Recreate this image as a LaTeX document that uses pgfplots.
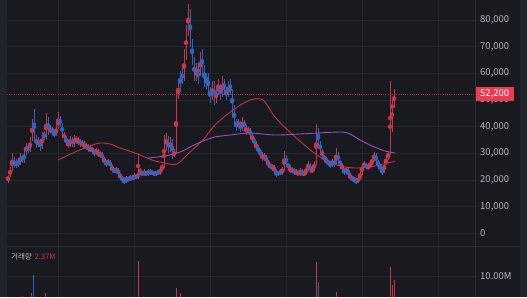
\documentclass[border=0pt]{standalone}
\usepackage{pgfplots}
\usepackage{pgfplotstable}
\pgfplotsset{compat=1.18}
\usepackage{fontspec}
\setmainfont{Noto Sans CJK KR}
\definecolor{bg}{RGB}{25,26,31}
\definecolor{strip}{RGB}{31,35,44}
\definecolor{gridc}{RGB}{36,37,43}
\definecolor{sepc}{RGB}{46,47,53}
\definecolor{tickc}{RGB}{178,181,190}
\definecolor{upc}{RGB}{204,52,74}
\definecolor{downc}{RGB}{44,102,196}
\definecolor{mared}{RGB}{196,50,70}
\definecolor{mapurple}{RGB}{150,80,190}
\definecolor{pricebox}{RGB}{236,58,80}
\definecolor{pricedot}{RGB}{160,50,65}

\pgfplotstableread{
x o h l c
8 19500 22000 19000 21500
10 21500 25000 21000 24000
12 24000 30000 23500 28000
14 28000 28500 24500 25000
16 27000 28000 24500 25000
18 27000 27500 25000 26000
20 26000 30000 25500 29000
22 29000 29500 26500 27000
24 30000 31000 26500 27000
26 30000 34000 29500 33000
28 33000 33500 30000 31000
30 31000 36000 30500 35000
32 35000 43000 34500 42000
34 44000 46500 35000 36000
36 36000 37000 32000 33000
38 33000 36000 32500 35000
40 35000 35500 31000 32000
42 32000 38000 31500 37000
44 37000 38500 35000 36000
46 36000 45000 35500 43000
48 43000 43500 37000 38000
50 38000 40500 37500 39500
52 39500 40000 37000 38000
54 38000 38500 36000 37000
56 37000 40500 36500 39500
58 39500 45500 39000 43000
60 43000 44000 40000 41000
62 41000 41500 36500 37000
64 36000 38000 35000 37000
66 36000 36500 33000 34000
68 33000 35000 32000 34000
70 33000 36500 32500 35500
72 35500 36000 32500 33000
74 33000 37000 32500 36000
76 34000 36500 33500 36000
78 34000 36000 33000 35000
80 35000 35500 32500 33000
82 33000 35000 32500 34000
84 32000 34500 31500 34000
86 32000 34000 31500 33000
88 33000 33500 30500 31000
90 31000 33000 30500 32000
92 31000 32500 30000 32000
94 31000 31500 29000 30000
96 30000 32000 29500 31000
98 29000 31500 28500 31000
100 29000 31000 28500 30000
102 30000 30500 27500 28000
104 27000 28500 26000 28000
106 27000 27500 25000 26000
108 26000 28000 25500 27000
110 27000 27500 24500 25000
112 24000 25500 23000 25000
114 24000 24500 22500 23000
116 23000 25000 22500 24000
118 24000 24500 21500 22000
120 21000 22500 20500 22000
122 21000 21500 19500 20000
124 20000 20500 18500 19500
126 19500 21500 19000 20500
128 20500 21000 19500 20000
130 20000 22000 19500 21000
132 21000 21500 20000 20500
134 20500 22500 20000 21500
136 21500 22000 20500 21000
138 21000 30000 20500 22500
140 22500 24500 22000 23000
142 23000 23500 21500 22000
144 22000 24000 21500 23000
146 23000 23500 21500 22000
148 22000 24000 21500 23500
150 23500 24000 22000 22500
152 22500 23500 22000 23000
154 23000 23500 21500 22000
156 22000 23500 21500 23000
158 23000 23500 22000 22500
160 22500 24500 22000 24000
162 24000 26000 23500 25000
164 25000 37000 24500 33000
166 33000 37500 31000 36000
168 36000 36500 30000 31000
170 31000 36000 30500 35000
172 35000 35500 28000 29000
174 29000 31500 28500 30500
176 30500 52500 30000 51000
178 51000 57000 50500 55000
180 60000 61000 53000 55000
182 60000 62000 56000 58000
184 58000 69000 57000 67000
186 67000 78000 65000 76000
188 76000 86000 74000 83000
190 83000 84000 70000 72000
192 72000 73000 63000 65000
194 65000 66000 57000 58000
196 58000 64000 57000 62000
198 62000 63000 56000 60000
200 60000 68000 59000 66000
202 66000 69000 60000 62000
204 62000 63000 55000 57000
206 59000 60000 54000 57000
208 59000 60000 52000 54000
210 54000 55000 49000 51000
212 51000 57000 50000 56000
214 56000 57000 48000 50000
216 50000 55000 49000 53000
218 53000 58000 52000 55000
220 55000 56000 50000 52000
222 52000 59000 51000 57000
224 57000 58000 52000 54000
226 54000 55000 50000 52000
228 52000 57000 51000 55000
230 55000 58000 52000 53000
232 53000 54000 45000 47000
234 47000 48000 40000 42000
236 42000 43000 38500 40000
238 40000 43000 39500 41500
240 41500 42000 38000 39000
242 39000 43500 38500 42000
244 42000 42500 39000 40000
246 38000 40500 37000 40000
248 38000 40000 37500 39000
250 39000 39500 36000 37000
252 35000 37500 34000 37000
254 35000 36000 33000 34000
256 32000 34500 31000 34000
258 32000 33000 30000 31000
260 31000 31500 29000 30000
262 28000 30500 27000 30000
264 28000 30000 27500 29000
266 29000 29500 26000 27000
268 26000 27500 25000 27000
270 26000 26500 24000 24500
272 24500 26000 24000 25000
274 23500 25500 22500 25000
276 23500 24000 21000 22000
278 22000 23500 21500 23000
280 23000 23500 22000 22500
282 22500 25000 22000 24000
284 24000 31000 23500 29000
286 29000 29500 25500 26000
288 26000 26500 24000 25000
290 23000 25500 22500 25000
292 23000 25000 22500 24000
294 24000 24500 22000 22500
296 22500 24000 22000 23000
298 22000 23500 21500 23000
300 22000 24500 21500 23500
302 23500 24000 21500 22000
304 22000 23500 21500 22500
306 22500 25000 22000 24000
308 24000 27000 23500 26000
310 26000 26500 22500 23000
312 23000 25000 22500 24000
314 24000 27000 23500 26000
316 26000 41000 25500 39000
318 39000 39500 32000 34000
320 34000 34500 30000 31000
322 29000 31500 28000 31000
324 29000 29500 27000 28000
326 27000 28500 26000 28000
328 27000 27500 25500 26500
330 26500 27000 24500 25500
332 25500 28000 25000 27000
334 27000 27500 25000 26000
336 26000 32000 25500 30000
338 30000 30500 26000 27000
340 27000 27500 25000 26000
342 24000 26500 23000 26000
344 24000 24500 22000 23000
346 23000 25000 22500 24000
348 24000 24500 21000 22000
350 21000 22500 20000 22000
352 21000 21500 19500 20500
354 20000 21000 19000 20500
356 20000 20500 18500 19500
358 19500 21000 19000 20500
360 20500 23500 20000 22500
362 22500 26000 22000 25000
364 25000 27000 24500 26000
366 26000 26500 24000 24500
368 24500 26000 24000 25000
370 25000 27000 24500 26000
372 26000 28500 25500 27500
374 27500 30500 27000 29500
376 29500 30000 26000 27000
378 27000 27500 24500 25500
380 25500 26000 23500 24000
382 24000 24500 22000 23000
384 23000 27000 22500 26000
386 26000 29000 25500 28000
388 28000 31000 27500 30000
390 30000 57000 29500 50000
392 45000 51000 38000 50000
394 49000 54000 47000 52200
}\candles

\pgfplotsset{
  wick/.style={only marks, mark=none, error bars/.cd, y dir=both, y explicit, error mark=none, error bar style={line width=0.4pt}},
  body/.style={only marks, mark=none, error bars/.cd, y dir=both, y explicit, error mark=none, error bar style={line width=1.0pt}},
}

\begin{document}
\begin{tikzpicture}[x=1pt,y=1pt]
\useasboundingbox (0,0) rectangle (527,297);
\fill[bg] (0,0) rectangle (527,297);
\fill[strip] (0,0) rectangle (7,297);
\fill[strip] (520,0) rectangle (527,297);

\begin{axis}[
  at={(7pt,51pt)}, anchor=south west,
  scale only axis, width=468pt, height=246pt,
  xmin=7, xmax=475, ymin=-4750, ymax=87500,
  axis line style={draw=none},
  major tick length=0pt,
  xtick={58,134,210,286,362,438}, xticklabels={},
  ytick={0,10000,...,80000},
  scaled y ticks=false,
  xmajorgrids, ymajorgrids,
  major grid style={gridc, line width=0.8pt},
  yticklabel pos=right,
  /pgf/number format/.cd, fixed, 1000 sep={,}, assume math mode=true,
  /pgfplots/.cd,
  yticklabel style={anchor=west, font=\fontsize{9.5}{10}\selectfont, text=tickc, inner xsep=5pt, inner ysep=2.5pt},
  extra y ticks={52200},
  extra y tick style={grid=major, major grid style={pricedot, line width=0.7pt, dash pattern=on 0.8pt off 1.4pt},
     yticklabel style={fill=pricebox, text=white}},
  clip=true,
]
\addplot[upc, wick] table[x=x, y expr={(\thisrow{h}+\thisrow{l})/2}, y error expr={(\thisrow{h}-\thisrow{l})/2},
  restrict expr to domain={\thisrow{c}-\thisrow{o}}{0:1000000}] {\candles};
\addplot[downc, wick] table[x=x, y expr={(\thisrow{h}+\thisrow{l})/2}, y error expr={(\thisrow{h}-\thisrow{l})/2},
  restrict expr to domain={\thisrow{o}-\thisrow{c}}{1:1000000}] {\candles};
\addplot[upc, body] table[x=x, y expr={(\thisrow{o}+\thisrow{c})/2}, y error expr={abs(\thisrow{c}-\thisrow{o})/2},
  restrict expr to domain={\thisrow{c}-\thisrow{o}}{0:1000000}] {\candles};
\addplot[downc, body] table[x=x, y expr={(\thisrow{o}+\thisrow{c})/2}, y error expr={abs(\thisrow{c}-\thisrow{o})/2},
  restrict expr to domain={\thisrow{o}-\thisrow{c}}{1:1000000}] {\candles};
\addplot[mared, line width=0.9pt, smooth, mark=none] coordinates {
(58,27500) (75,30500) (90,32750) (100,33875) (110,33500) (120,32000) (135,30125) (152,27500) (165,26375) (177,26000) (190,30500) (203,35000) (215,40625) (233,46250) (250,50000) (263,50000) (275,43625) (293,36875) (313,30500) (325,27500) (340,25250) (355,24500) (370,24875) (383,26000) (395,27000)};
\addplot[mapurple, line width=0.9pt, smooth, mark=none] coordinates {
(148,28250) (165,29000) (180,30500) (192,32750) (203,34625) (215,36125) (230,36875) (250,37625) (275,36875) (300,37250) (340,38000) (350,37250) (360,35000) (372,32750) (385,30875) (395,30125)};
\end{axis}

\begin{axis}[
  at={(7pt,0pt)}, anchor=south west,
  scale only axis, width=468pt, height=51pt,
  xmin=7, xmax=475, ymin=0, ymax=24.3,
  axis line style={draw=none},
  major tick length=0pt,
  xtick={58,134,210,286,362,438}, xticklabels={},
  ytick={10}, yticklabels={10.00M},
  xmajorgrids, ymajorgrids,
  major grid style={gridc, line width=0.8pt},
  yticklabel pos=right,
  yticklabel style={anchor=west, font=\fontsize{9.5}{10}\selectfont, text=tickc, inner xsep=5pt},
]
\addplot[ycomb, upc, line width=1pt, mark=none] coordinates {
(23,0.5) (32,1.9) (46,1.9) (138,17.1) (176,4.3) (180,1.9) (316,16.7) (336,2.4) (390,14.3) (392,5.7) (394,8.1)};
\addplot[ycomb, downc, line width=1pt, mark=none] coordinates {
(34,10.5) (318,7.1)};
\end{axis}

\draw[sepc, line width=0.8pt] (7,51) -- (520,51);
\draw[sepc, line width=0.8pt] (475,0) -- (475,297);
\node[anchor=west, inner sep=0pt, font=\fontsize{7.5}{8}\selectfont] at (11,40) {\textcolor{tickc}{거래량}\hspace{3pt}\textcolor{upc}{2.37M}};
\end{tikzpicture}
\end{document}
